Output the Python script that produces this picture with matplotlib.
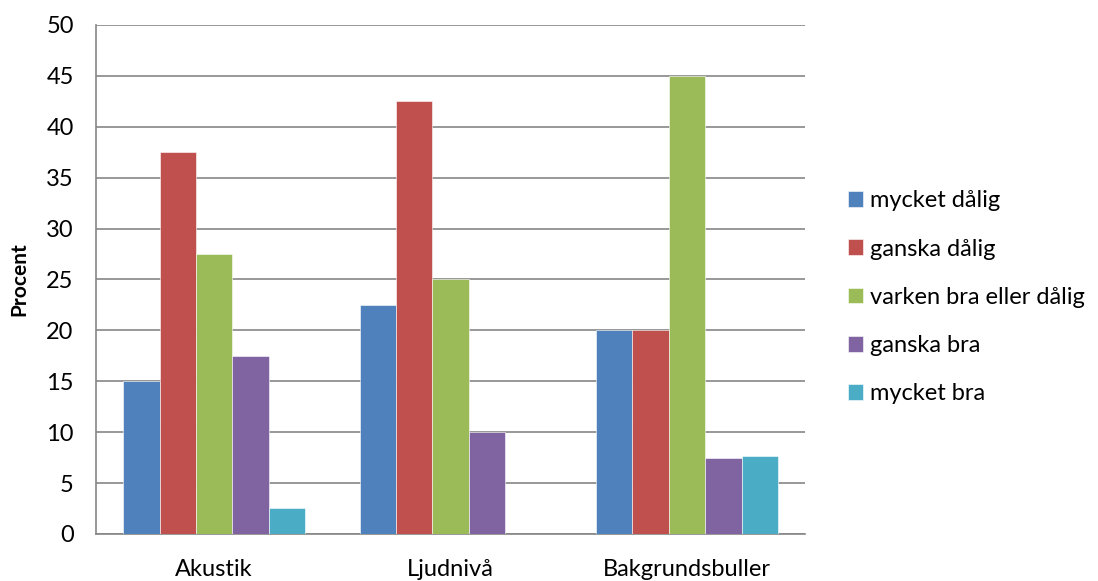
import numpy as np
import matplotlib
matplotlib.use('Agg')
import matplotlib.pyplot as plt

plt.rcParams['font.family'] = ['Lato', 'DejaVu Sans']

kategorier = ['Akustik', 'Ljudnivå', 'Bakgrundsbuller']
svar = ['mycket dålig', 'ganska dålig', 'varken bra eller dålig', 'ganska bra', 'mycket bra']
mycket_dalig = [15, 22.5, 20]
ganska_dalig = [37.5, 42.5, 20]
varken = [27.5, 25, 45]
ganska_bra = [17.5, 10, 7.5]
mycket_bra = [2.5, 0, 7.7]
serier = [mycket_dalig, ganska_dalig, varken, ganska_bra, mycket_bra]
farger = ['#4F81BD', '#C0504D', '#9BBB59', '#8064A2', '#4BACC6']

fig = plt.figure(figsize=(10.98, 5.81), dpi=100)
ax = fig.add_axes([0.0874, 0.081, 0.646, 0.876])

# bredd per stapel (gap 150 % som i Excel)
bredd = 1 / (len(serier) + 1.5)
x = np.arange(len(kategorier))
for i, (v, c, namn) in enumerate(zip(serier, farger, svar)):
    pos = x + (i - (len(serier) - 1) / 2) * bredd
    ax.bar(pos, v, bredd, color=c, label=namn, zorder=3,
           edgecolor='white', linewidth=0.4)

ax.set_xlim(-0.5, len(kategorier) - 0.5)
ax.set_ylim(0, 50)
ax.set_yticks(np.arange(0, 51, 5))
ax.set_xticks(x)
ax.set_xticklabels(kategorier)
ax.tick_params(axis='both', length=0, labelsize=17, colors='black')
ax.tick_params(axis='y', pad=16)
ax.tick_params(axis='x', pad=18)
ax.yaxis.grid(True, color='#868686', linewidth=1.2, zorder=0)
for s in ['top', 'right']:
    ax.spines[s].set_visible(False)
for s in ['left', 'bottom']:
    ax.spines[s].set_color('#868686')
    ax.spines[s].set_linewidth(1.2)
ax.set_ylabel('Procent', fontsize=15, fontweight='bold', labelpad=12)

ax.legend(loc='center left', bbox_to_anchor=(1.03, 0.465), frameon=False,
          fontsize=17, handlelength=0.65, handleheight=0.65,
          handletextpad=0.3, labelspacing=1.15)

fig.savefig('out.png', dpi=100)
